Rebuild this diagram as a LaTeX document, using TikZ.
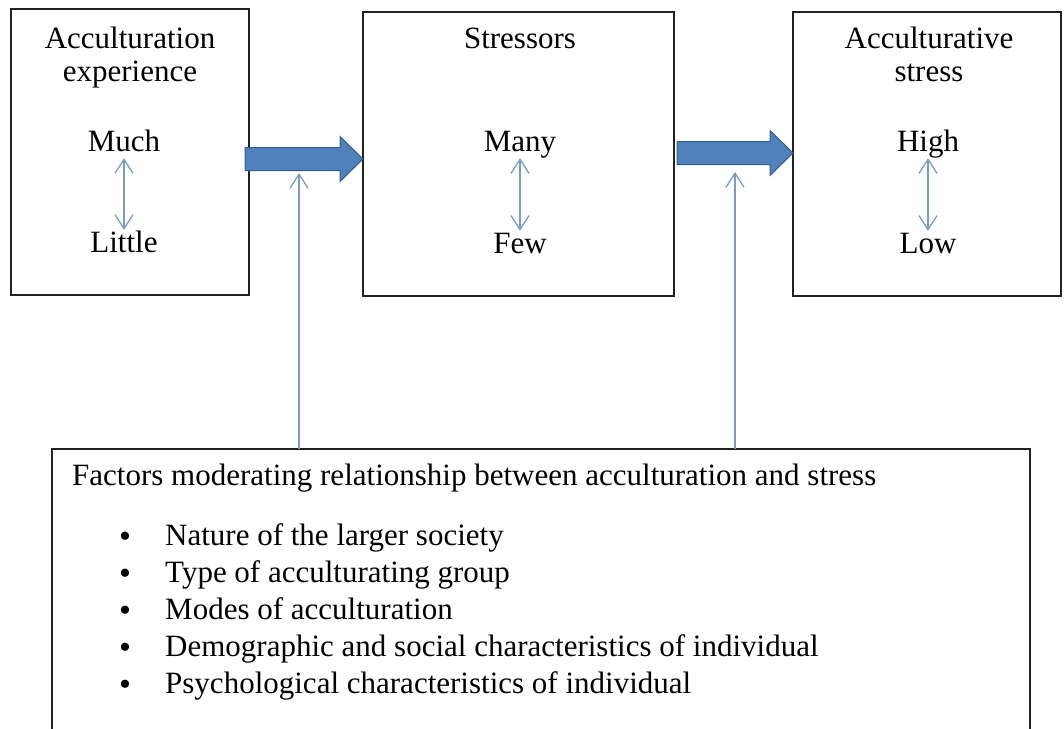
\documentclass[tikz,border=0pt]{standalone}
\usepackage{fontspec}
\setmainfont{Liberation Serif}
\usetikzlibrary{arrows.meta,calc}
\definecolor{blkfill}{HTML}{4F81BD}
\definecolor{blkline}{HTML}{385D8A}
\definecolor{thinblue}{HTML}{7A9CC6}
\definecolor{boxline}{HTML}{222222}
\newcommand\blkarrow[2]{%
  \draw[blockarrow] ($(#1)+(0,-11.5)$) -- ($(#2)+(-23,-11.5)$) -- ($(#2)+(-23,-22.5)$)
    -- (#2) -- ($(#2)+(-23,22.5)$) -- ($(#2)+(-23,11.5)$) -- ($(#1)+(0,11.5)$) -- cycle;}
\begin{document}
\begin{tikzpicture}[x=1pt,y=-1pt,
  box/.style={draw=boxline, line width=1.4pt, outer sep=0pt, inner sep=0pt, anchor=north west},
  lbl/.style={font=\fontsize{31}{36}\selectfont, inner sep=0pt, anchor=base, text height=22pt, text depth=7pt},
  item/.style={font=\fontsize{31}{36}\selectfont, inner sep=0pt, anchor=base west},
  bul/.style={font=\fontsize{34}{36}\selectfont, inner sep=0pt, anchor=base},
  blockarrow/.style={fill=blkfill, draw=blkline, line width=1pt, line join=miter},
  thinarrow/.style={draw=thinblue, line width=1.3pt, -{Straight Barb[length=14pt,width=18pt]}},
  dblarrow/.style={draw=thinblue, line width=1.3pt, {Straight Barb[length=14pt,width=18pt]}-{Straight Barb[length=14pt,width=18pt]}}]
\clip (0,0) rectangle (1064,728);
\fill[white] (0,0) rectangle (1064,728);

% boxes
\node[box, minimum width=238pt, minimum height=286pt] (b1) at (11,9) {};
\node[box, minimum width=311pt, minimum height=284pt] (b2) at (363,12) {};
\node[box, minimum width=268pt, minimum height=284pt] (b3) at (793,12) {};
\node[box, minimum width=978pt, minimum height=300pt] (b4) at (52,449) {};

% box 1 texts
\node[lbl] (t1a) at (130,48) {Acculturation};
\node[lbl] (t1b) at (130,81) {experience};
\node[lbl] (much) at (124,151) {Much};
\node[lbl] (little) at (124,252) {Little};
\draw[dblarrow] (much.south) -- (little.north);

% box 2 texts
\node[lbl] (t2a) at (520,48) {Stressors};
\node[lbl] (many) at (520,151) {Many};
\node[lbl] (few) at (520,253) {Few};
\draw[dblarrow] (many.south) -- (few.north);

% box 3 texts
\node[lbl] (t3a) at (929,48) {Acculturative};
\node[lbl] (t3b) at (929,81) {stress};
\node[lbl] (high) at (928,151) {High};
\node[lbl] (low) at (928,253) {Low};
\draw[dblarrow] (high.south) -- (low.north);

% block arrows
\coordinate (ba1s) at (245,159);
\coordinate (ba1t) at (b2.west |- ba1s);
\blkarrow{ba1s}{ba1t}
\coordinate (ba2s) at (677,153);
\coordinate (ba2t) at (b3.west |- ba2s);
\blkarrow{ba2s}{ba2t}

% thin arrows
\coordinate (ta1) at (299,173);
\coordinate (ta2) at (735,172);
\draw[thinarrow] (b4.north -| ta1) -- (ta1);
\draw[thinarrow] (b4.north -| ta2) -- (ta2);

% bottom box texts
\node[item] (fac) at (72,485) {Factors moderating relationship between acculturation and stress};
\node[bul] (u1) at (125,547) {•};
\node[item] (i1) at (165,545) {Nature of the larger society};
\node[bul] (u2) at (125,584) {•};
\node[item] (i2) at (165,582) {Type of acculturating group};
\node[bul] (u3) at (125,621) {•};
\node[item] (i3) at (165,619) {Modes of acculturation};
\node[bul] (u4) at (125,658) {•};
\node[item] (i4) at (165,656) {Demographic and social characteristics of individual};
\node[bul] (u5) at (125,695) {•};
\node[item] (i5) at (165,693) {Psychological characteristics of individual};
\end{tikzpicture}
\end{document}
